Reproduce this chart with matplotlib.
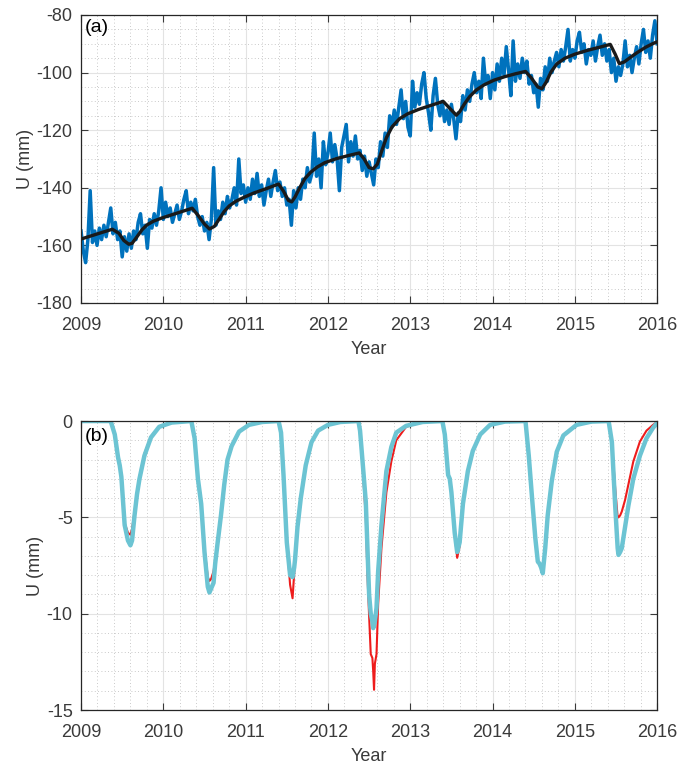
import numpy as np
import matplotlib.pyplot as plt
from matplotlib.ticker import MultipleLocator

plt.rcParams['font.family'] = ['Liberation Sans', 'DejaVu Sans']
plt.rcParams['axes.unicode_minus'] = False

# ---- panel (a): GPS vertical series, about every 10 days (36 per year) ----
gps_u = [
    # 2009
    -155, -162, -166, -158, -141, -159, -155, -160, -154, -158, -153, -157,
    -152, -147, -156, -152, -158, -155, -164, -157, -162, -156, -161, -155,
    -158, -152, -149, -156, -153, -161, -151, -154, -149, -153, -148, -140,
    # 2010
    -151, -145, -150, -147, -152, -149, -146, -151, -148, -144, -141, -149,
    -145, -148, -144, -150, -153, -150, -155, -152, -158, -151, -133, -153,
    -148, -151, -145, -149, -143, -147, -144, -140, -146, -130, -142, -139,
    # 2011
    -145, -140, -144, -137, -142, -135, -143, -139, -146, -141, -137, -143,
    -138, -134, -141, -138, -143, -140, -146, -144, -153, -141, -147, -140,
    -144, -137, -140, -133, -138, -135, -121, -136, -130, -140, -124, -132,
    # 2012
    -128, -121, -131, -125, -130, -141, -126, -122, -118, -131, -124, -129,
    -122, -130, -127, -134, -129, -136, -131, -135, -139, -130, -133, -124,
    -129, -121, -126, -115, -119, -113, -118, -112, -106, -116, -110, -119,
    # 2013
    -122, -103, -112, -107, -111, -104, -100, -109, -114, -120, -108, -102,
    -111, -115, -110, -117, -113, -118, -111, -116, -123, -114, -117, -108,
    -113, -106, -110, -104, -100, -107, -103, -109, -95, -104, -101, -109,
    # 2014
    -100, -106, -97, -103, -95, -101, -91, -99, -108, -89, -103, -97,
    -102, -95, -100, -96, -104, -101, -107, -104, -112, -102, -106, -98,
    -103, -95, -100, -96, -93, -98, -92, -96, -91, -85, -96, -92,
    # 2015
    -95, -89, -86, -93, -90, -97, -92, -94, -89, -96, -91, -87,
    -94, -90, -96, -92, -100, -95, -103, -98, -101, -97, -89, -98,
    -94, -100, -95, -91, -97, -90, -85, -93, -89, -95, -87, -82,
    # 2016
    -90,
]
gps_t = np.linspace(2009, 2016, len(gps_u))

model_t = [
    2009.00, 2009.10, 2009.20, 2009.30, 2009.38, 2009.46, 2009.52, 2009.58,
    2009.62, 2009.68, 2009.74, 2009.80, 2009.88, 2009.98, 2010.10, 2010.22,
    2010.35, 2010.42, 2010.50, 2010.56, 2010.62, 2010.68, 2010.74, 2010.80,
    2010.88, 2010.98, 2011.10, 2011.25, 2011.40, 2011.46, 2011.52, 2011.56,
    2011.60, 2011.66, 2011.72, 2011.79, 2011.87, 2011.96, 2012.10, 2012.25,
    2012.38, 2012.44, 2012.50, 2012.55, 2012.60, 2012.65, 2012.71, 2012.78,
    2012.87, 2012.97, 2013.10, 2013.25, 2013.40, 2013.48, 2013.56, 2013.60,
    2013.66, 2013.72, 2013.80, 2013.90, 2014.02, 2014.15, 2014.28, 2014.40,
    2014.47, 2014.55, 2014.60, 2014.65, 2014.71, 2014.78, 2014.88, 2015.00,
    2015.15, 2015.30, 2015.43, 2015.49, 2015.54, 2015.60, 2015.68, 2015.76,
    2015.86, 2015.95, 2016.00,
]
model_u = [
    -157.8, -156.9, -156.0, -155.1, -154.4, -155.8, -158.3, -159.6,
    -159.3, -157.0, -154.6, -152.9, -151.6, -150.5, -149.4, -148.3,
    -147.1, -149.5, -152.6, -154.3, -153.4, -150.8, -148.2, -146.3,
    -144.7, -143.3, -141.8, -140.3, -138.7, -141.2, -144.4, -144.9,
    -143.2, -139.8, -136.8, -134.6, -132.8, -131.3, -129.9, -128.8,
    -127.9, -130.0, -133.0, -133.4, -131.8, -127.5, -122.6, -118.8,
    -116.0, -114.3, -112.8, -111.4, -110.0, -112.4, -114.8, -113.6,
    -110.8, -108.4, -106.1, -104.2, -102.6, -101.4, -100.4, -99.6,
    -101.8, -105.0, -105.6, -103.4, -99.8, -97.0, -95.0, -93.6,
    -92.3, -91.2, -90.2, -93.6, -96.9, -96.3, -94.6, -93.0,
    -91.2, -89.9, -89.3,
]

# ---- panel (b): seasonal loading, two estimates ----
load_t = [
    2009.00, 2009.36, 2009.41, 2009.45, 2009.47, 2009.49, 2009.53, 2009.57,
    2009.60, 2009.62, 2009.65, 2009.68, 2009.71, 2009.77, 2009.85, 2009.95,
    2010.10, 2010.34, 2010.38, 2010.42, 2010.46, 2010.50, 2010.54, 2010.56,
    2010.58, 2010.61, 2010.63, 2010.66, 2010.70, 2010.74, 2010.78, 2010.83,
    2010.92, 2011.04, 2011.20, 2011.40, 2011.43, 2011.46, 2011.50, 2011.54,
    2011.57, 2011.59, 2011.60, 2011.63, 2011.67, 2011.73, 2011.80, 2011.88,
    2012.00, 2012.15, 2012.37, 2012.39, 2012.43, 2012.46, 2012.48, 2012.50,
    2012.52, 2012.54, 2012.55, 2012.56, 2012.57, 2012.59, 2012.61, 2012.65,
    2012.71, 2012.77, 2012.83, 2012.95, 2013.15, 2013.39, 2013.42, 2013.46,
    2013.48, 2013.50, 2013.54, 2013.57, 2013.60, 2013.64, 2013.70, 2013.76,
    2013.85, 2013.97, 2014.15, 2014.40, 2014.44, 2014.48, 2014.52, 2014.55,
    2014.57, 2014.59, 2014.61, 2014.64, 2014.67, 2014.72, 2014.78, 2014.86,
    2015.02, 2015.20, 2015.41, 2015.45, 2015.49, 2015.52, 2015.53, 2015.55,
    2015.57, 2015.61, 2015.65, 2015.71, 2015.79, 2015.87, 2015.95, 2016.00,
]
load_red = [
    0, 0, -0.7, -1.9, -2.3, -2.9, -5.3, -5.8,
    -5.9, -5.6, -4.7, -3.7, -2.9, -1.7, -0.8, -0.3,
    -0.08, 0, -0.9, -3.0, -4.2, -6.6, -8.1, -8.3,
    -8.2, -7.8, -7.2, -6.2, -4.8, -3.2, -2.0, -1.3,
    -0.55, -0.2, -0.05, 0, -0.6, -2.8, -6.3, -8.5,
    -9.2, -7.9, -7.2, -5.4, -4.0, -2.3, -1.1, -0.5,
    -0.2, -0.05, 0, -0.5, -3.0, -5.0, -8.0, -10.1,
    -12.1, -12.3, -13.0, -13.95, -12.6, -12.1, -9.5, -6.6,
    -3.7, -2.1, -1.0, -0.3, -0.05, 0, -0.7, -2.8,
    -3.0, -3.7, -5.9, -7.1, -6.5, -4.4, -2.6, -1.6,
    -0.75, -0.2, -0.03, 0, -1.8, -4.0, -6.1, -7.3,
    -7.4, -7.6, -7.9, -6.6, -4.9, -3.1, -1.6, -0.75,
    -0.2, -0.03, 0, -1.1, -3.5, -5.0, -5.0, -4.9,
    -4.7, -4.1, -3.3, -2.1, -1.07, -0.5, -0.2, -0.05,
]
load_cyan = [
    0, 0, -0.7, -1.9, -2.3, -2.9, -5.4, -6.2,
    -6.45, -6.2, -4.9, -3.8, -3.0, -1.8, -0.85, -0.3,
    -0.08, 0, -0.9, -3.0, -4.3, -6.8, -8.6, -8.9,
    -8.7, -8.4, -7.4, -6.3, -4.9, -3.3, -2.0, -1.3,
    -0.55, -0.2, -0.05, 0, -0.6, -2.8, -6.3, -8.0,
    -8.1, -7.6, -7.2, -5.5, -4.0, -2.3, -1.1, -0.5,
    -0.2, -0.05, 0, -0.5, -2.6, -4.2, -6.6, -9.0,
    -10.0, -10.4, -10.75, -10.6, -10.4, -9.7, -7.8, -5.4,
    -2.6, -1.35, -0.6, -0.25, -0.05, 0, -0.7, -2.8,
    -3.0, -3.7, -5.8, -6.8, -6.3, -4.3, -2.6, -1.55,
    -0.7, -0.2, -0.03, 0, -1.8, -4.0, -6.1, -7.3,
    -7.4, -7.6, -7.9, -6.6, -4.9, -3.1, -1.6, -0.75,
    -0.2, -0.03, 0, -1.1, -4.4, -6.6, -6.95, -6.8,
    -6.6, -5.5, -4.4, -3.0, -1.8, -0.9, -0.35, -0.1,
]

years = [2009, 2010, 2011, 2012, 2013, 2014, 2015, 2016]
axis_col = "#3a3a3a"


def style_axis(ax):
    ax.set_xlim(2009, 2016)
    ax.set_xticks(years)
    ax.xaxis.set_minor_locator(MultipleLocator(0.2))
    ax.grid(True, which="major", color="#e3e3e3", linewidth=0.8)
    ax.grid(True, which="minor", color="#b8b8b8", linestyle=(0, (1, 3)), linewidth=0.6)
    ax.set_axisbelow(True)
    ax.tick_params(which="major", direction="in", length=5, width=0.8,
                   top=True, right=True, labelsize=13, colors=axis_col)
    ax.tick_params(axis="x", which="major", pad=10)
    ax.tick_params(axis="y", which="major", pad=6)
    ax.tick_params(which="minor", length=0, top=True, right=True)
    for s in ax.spines.values():
        s.set_color("#262626")
        s.set_linewidth(0.9)
    ax.set_xlabel("Year", fontsize=13, color=axis_col, labelpad=5)
    ax.set_ylabel("U (mm)", fontsize=13, color=axis_col, labelpad=2)


fig = plt.figure(figsize=(6.81, 7.69), dpi=100)

# (a)
ax1 = fig.add_axes([0.119, 0.606, 0.846, 0.3745])
ax1.plot(gps_t, gps_u, color="#0072bd", linewidth=2.5)
ax1.plot(model_t, model_u, color="#1a1a1a", linewidth=2.4)
ax1.set_ylim(-180, -80)
ax1.set_yticks([-180, -160, -140, -120, -100, -80])
ax1.yaxis.set_minor_locator(MultipleLocator(5))
style_axis(ax1)
ax1.text(0.006, 0.985, "(a)", transform=ax1.transAxes, fontsize=14,
         va="top", ha="left", color="black")

# (b)
ax2 = fig.add_axes([0.119, 0.0767, 0.846, 0.3758])
ax2.plot(load_t, load_red, color="#ee1c1c", linewidth=1.5)
ax2.plot(load_t, load_cyan, color="#6cc4d3", linewidth=3.2)
ax2.set_ylim(-15, 0)
ax2.set_yticks([-15, -10, -5, 0])
ax2.yaxis.set_minor_locator(MultipleLocator(1))
style_axis(ax2)
ax2.text(0.006, 0.975, "(b)", transform=ax2.transAxes, fontsize=14,
         va="top", ha="left", color="black")

fig.savefig("out.png", dpi=100)
